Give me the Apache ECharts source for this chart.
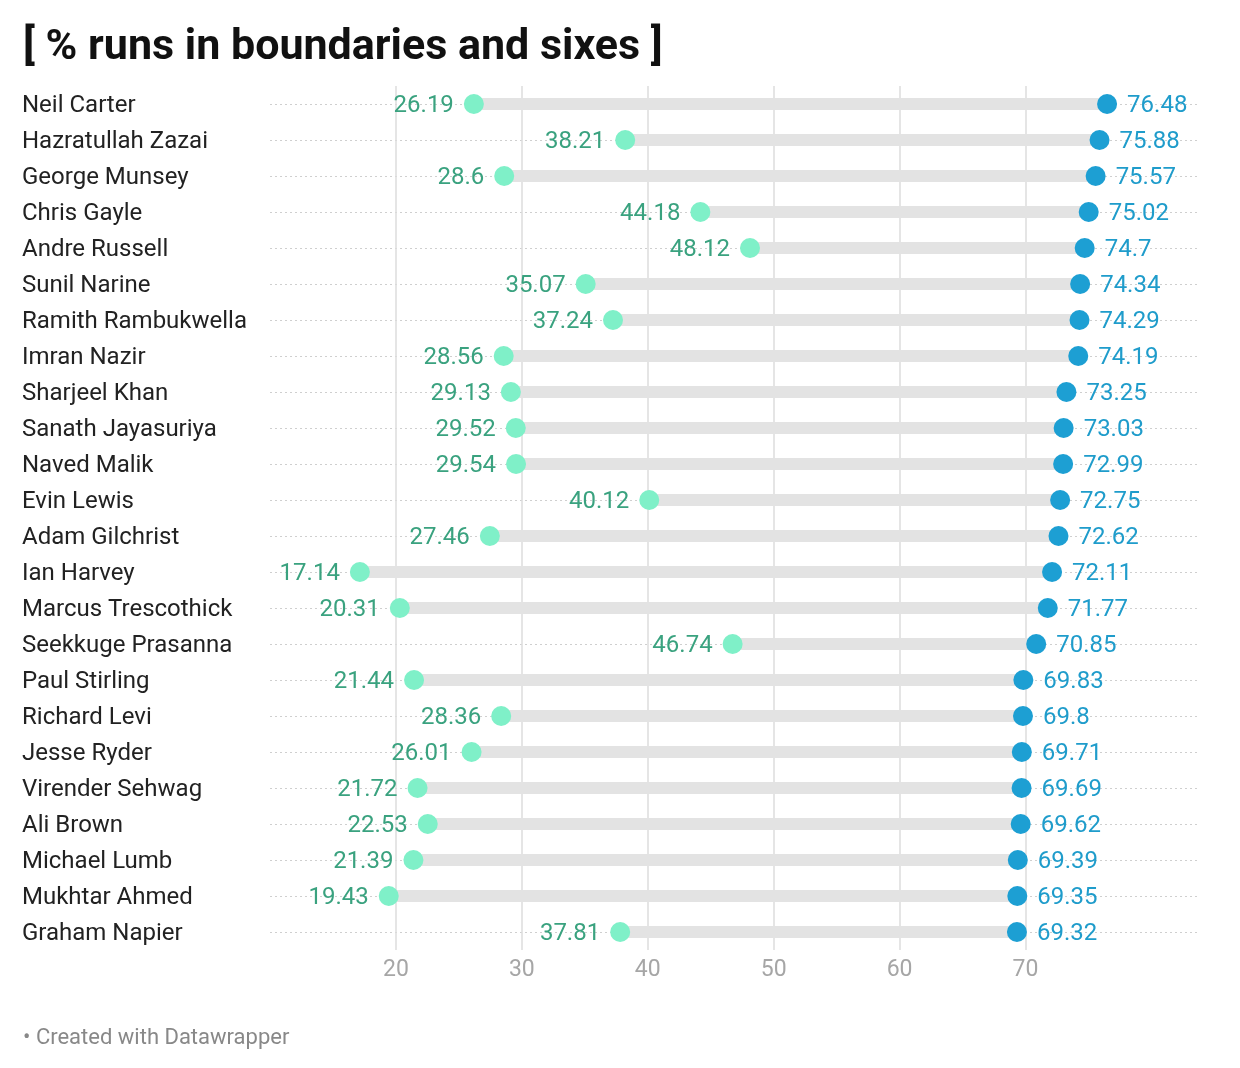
<!DOCTYPE html>
<html><head><meta charset="utf-8">
<script src="https://cdn.jsdelivr.net/npm/echarts@6/dist/echarts.min.js"></script>
<style>html,body{margin:0;padding:0;background:#fff}#c{width:1240px;height:1068px}</style>
</head><body><div id="c"></div>
<script>
const players = ["Neil Carter","Hazratullah Zazai","George Munsey","Chris Gayle","Andre Russell","Sunil Narine","Ramith Rambukwella","Imran Nazir","Sharjeel Khan","Sanath Jayasuriya","Naved Malik","Evin Lewis","Adam Gilchrist","Ian Harvey","Marcus Trescothick","Seekkuge Prasanna","Paul Stirling","Richard Levi","Jesse Ryder","Virender Sehwag","Ali Brown","Michael Lumb","Mukhtar Ahmed","Graham Napier"];
const lowValues = [26.19,38.21,28.6,44.18,48.12,35.07,37.24,28.56,29.13,29.52,29.54,40.12,27.46,17.14,20.31,46.74,21.44,28.36,26.01,21.72,22.53,21.39,19.43,37.81];
const highValues = [76.48,75.88,75.57,75.02,74.7,74.34,74.29,74.19,73.25,73.03,72.99,72.75,72.62,72.11,71.77,70.85,69.83,69.8,69.71,69.69,69.62,69.39,69.35,69.32];
const tickLabels = [20,30,40,50,60,70];
const title = "[ % runs in boundaries and sixes ]";
const credit = "• Created with Datawrapper";

const chart = echarts.init(document.getElementById('c'), null, {renderer:'canvas'});
const FONT = 'Roboto';
chart.setOption({
  animation:false,
  backgroundColor:'#fff',
  textStyle:{fontFamily:FONT},
  title:[
    {text:title,left:18,top:22,textStyle:{fontFamily:FONT,fontWeight:'bold',fontSize:43,color:'#111'}},
    {text:credit,left:18,top:1022,textStyle:{fontFamily:FONT,fontWeight:'normal',fontSize:22,color:'#888'}}
  ],
  grid:{left:270,right:42,top:86,bottom:118,containLabel:false},
  xAxis:{type:'value',min:10,max:83.7,interval:10,
    axisLine:{show:false},axisTick:{show:false},splitLine:{show:false},
    axisLabel:{margin:9,fontSize:23,color:'#a6a6a6',fontFamily:FONT,
      formatter:v=>tickLabels.includes(Math.round(v*100)/100)?String(v):''}},
  yAxis:{type:'category',data:players,inverse:true,
    axisLine:{show:false},axisTick:{show:false},splitLine:{show:false},
    axisLabel:{align:'left',margin:248,fontSize:24,color:'#222',fontFamily:FONT,
      formatter:v=>'{n|'+v+'}',
      rich:{n:{fontSize:24,color:'#222',fontFamily:FONT,padding:[4,0,0,0]}}}},
  series:[
    {type:'scatter',data:[],z:1,silent:true,
      markLine:{silent:true,z:1,symbol:'none',label:{show:false},animation:false,
        data:[
          ...players.map(p=>({yAxis:p,lineStyle:{type:[2,3],color:'#cfcfcf',width:1}})),
          ...tickLabels.map(t=>({xAxis:t,lineStyle:{type:'solid',color:'#dddddd',width:1.5}}))
        ]}},
    {type:'custom',z:2,silent:true,
      data:players.map((p,i)=>[lowValues[i],highValues[i],i]),
      encode:{x:[0,1],y:2},
      renderItem:(params,api)=>{
        const a=api.coord([api.value(0),api.value(2)]);
        const b=api.coord([api.value(1),api.value(2)]);
        return {type:'rect',shape:{x:a[0],y:a[1]-6,width:b[0]-a[0],height:12},style:{fill:'#e3e3e3'}};
      }},
    {type:'scatter',z:3,symbolSize:20,data:lowValues.map((v,i)=>[v,i]),
      itemStyle:{color:'#7ff0c8',opacity:1},
      label:{show:true,position:'left',distance:10,offset:[0,2],fontSize:24,color:'#3aa27f',fontFamily:FONT,
        formatter:p=>String(p.value[0])}},
    {type:'scatter',z:3,symbolSize:20,data:highValues.map((v,i)=>[v,i]),
      itemStyle:{color:'#1d9fd3',opacity:1},
      label:{show:true,position:'right',distance:10,offset:[0,2],fontSize:24,color:'#1f9ccb',fontFamily:FONT,
        formatter:p=>String(p.value[0])}}
  ]
});
</script></body></html>
